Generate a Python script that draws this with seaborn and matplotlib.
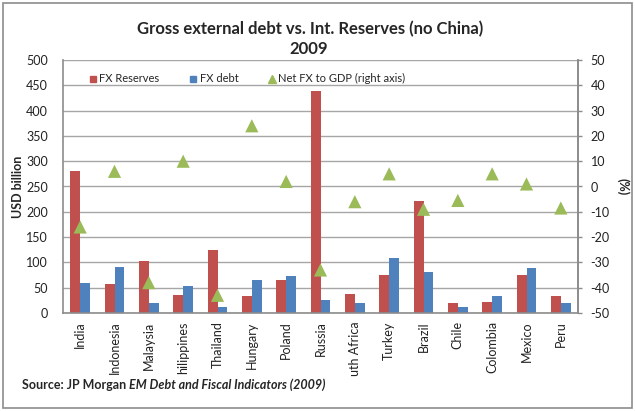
import matplotlib
matplotlib.use("Agg")
import matplotlib.pyplot as plt
import seaborn as sns
import pandas as pd
import numpy as np
from matplotlib.patches import Rectangle

# Country labels as printed on the category axis
countries = ["India", "Indonesia", "Malaysia", "hilippines", "Thailand", "Hungary",
             "Poland", "Russia", "uth Africa", "Turkey", "Brazil", "Chile",
             "Colombia", "Mexico", "Peru"]
fx_reserves = [280, 57, 102, 36, 124, 34, 66, 439, 38, 76, 222, 20, 22, 76, 33]
fx_debt = [59, 90, 20, 53, 12, 66, 74, 26, 20, 108, 82, 12, 34, 89, 20]
net_fx_gdp = [-16, 6, -38, 10, -43, 24, 2, -33, -6, 5, -9, -5.5, 5, 1, -8.5]

left_ticks = list(range(0, 501, 50))
right_ticks = list(range(-50, 51, 10))

RED = "#C0504D"
BLUE = "#4F81BD"
GREEN = "#9BBB59"
GRID = "#A6A6A6"

sns.set_theme(style="white")
plt.rcParams["font.family"] = ["Lato", "DejaVu Sans"]

df = pd.DataFrame({
    "country": countries * 2,
    "value": fx_reserves + fx_debt,
    "series": ["FX Reserves"] * len(countries) + ["FX debt"] * len(countries),
})

fig = plt.figure(figsize=(6.35, 4.11), dpi=100)
ax = fig.add_axes([63 / 635, 1 - 313 / 411, 515 / 635, 253 / 411])

sns.barplot(data=df, x="country", y="value", hue="series",
            palette=[RED, BLUE], width=0.58, gap=0, saturation=1,
            edgecolor="none", ax=ax, legend=False)

ax.set_ylim(0, 500)
ax.set_xlim(-0.5, len(countries) - 0.5)
ax.set_yticks(left_ticks)
ax.set_yticklabels([str(t) for t in left_ticks], fontsize=9, color="#222222")
ax.yaxis.grid(True, color=GRID, linewidth=1)
ax.set_axisbelow(True)
ax.tick_params(axis="y", length=0, pad=11)
ax.tick_params(axis="x", length=0, pad=6)
ax.set_xticks(range(len(countries)))
ax.set_xticklabels(countries, rotation=90, fontsize=9, color="#222222")
ax.set_xlabel("")
ax.set_ylabel("USD billion", fontsize=9, fontweight="bold")
ax.yaxis.set_label_coords(-0.076, 0.5)
for side in ["left", "bottom", "right"]:
    ax.spines[side].set_color("#8C8C8C")
    ax.spines[side].set_linewidth(1.2)
ax.spines["top"].set_visible(False)

ax2 = ax.twinx()
ax2.set_ylim(-50, 50)
ax2.set_yticks(right_ticks)
ax2.set_yticklabels([str(t) for t in right_ticks], fontsize=9, color="#222222")
ax2.tick_params(axis="y", length=3, width=1, color="#8C8C8C", pad=6)
sns.scatterplot(x=np.arange(len(countries)), y=net_fx_gdp, marker="^",
                color=GREEN, s=90, edgecolor="none", ax=ax2, zorder=5)
ax2.set_ylabel("(%)", fontsize=9, fontweight="bold", rotation=270, labelpad=14)
for side in ["left", "bottom", "top"]:
    ax2.spines[side].set_visible(False)
ax2.spines["right"].set_color("#8C8C8C")
ax2.spines["right"].set_linewidth(1.2)
ax2.grid(False)

# Legend row inside the plot, between the two top gridlines
handles = [
    plt.Line2D([], [], marker="s", color=RED, linestyle="none", markersize=5),
    plt.Line2D([], [], marker="s", color=BLUE, linestyle="none", markersize=5),
    plt.Line2D([], [], marker="^", color=GREEN, linestyle="none", markersize=5.5),
]
ax2.legend(handles, ["FX Reserves", "FX debt", "Net FX to GDP (right axis)"],
           loc="center left", bbox_to_anchor=(0.031, 0.925), ncol=3, frameon=False,
           fontsize=8, handletextpad=0.24, columnspacing=2.66, handlelength=0.7,
           borderpad=0.4)

fig.text(310 / 635, 1 - 29 / 411, "Gross external debt vs. Int. Reserves (no China)",
         ha="center", va="center", fontsize=12, fontweight="bold")
fig.text(309 / 635, 1 - 49 / 411, "2009", ha="center", va="center",
         fontsize=12, fontweight="bold")

src = fig.text(22 / 635, 1 - 385 / 411, "Source: JP Morgan ", ha="left", va="center",
               fontsize=9, fontweight="bold")
fig.canvas.draw()
bb = src.get_window_extent()
x_next = bb.x1 / fig.bbox.width
fig.text(x_next, 1 - 385 / 411, "EM Debt and Fiscal Indicators (2009)", ha="left",
         va="center", fontsize=9, fontweight="bold", style="italic")

fig.patches.append(Rectangle((3 / 635, 3 / 411), 629 / 635, 405 / 411,
                             transform=fig.transFigure, fill=False,
                             edgecolor="#8C8C8C", linewidth=1.2))

fig.savefig("out.png", dpi=100)
